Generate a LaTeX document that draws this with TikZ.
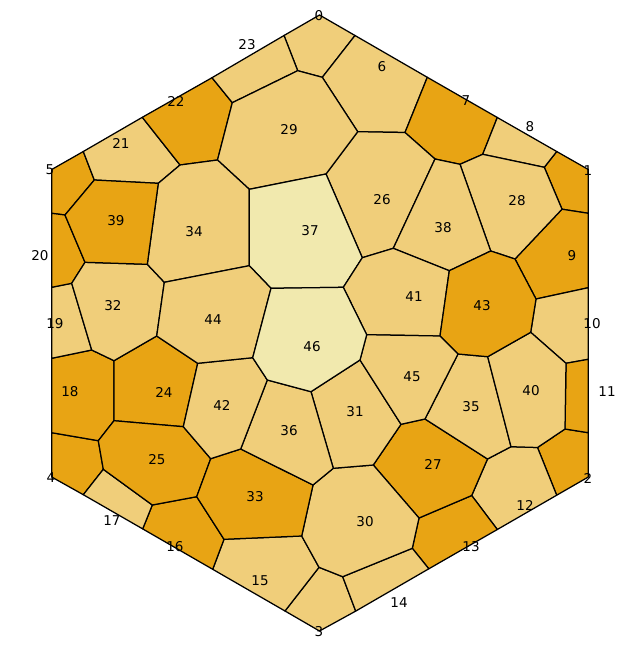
\documentclass[tikz,border=0pt]{standalone}
\usepackage{fontspec}
\setmainfont{DejaVu Sans}
\definecolor{dk}{RGB}{232,164,20}
\definecolor{lt}{RGB}{240,206,122}
\definecolor{pl}{RGB}{241,233,174}
\begin{document}
\begin{tikzpicture}[x=1pt,y=-1pt,line join=round,
  cell/.style={draw=black,line width=1.25pt},
  cdk/.style={cell,fill=dk},
  clt/.style={cell,fill=lt},
  cpl/.style={cell,fill=pl},
  lab/.style={font=\fontsize{13.5}{15}\selectfont,inner sep=0pt}]
\useasboundingbox (0,0) rectangle (640,650);
% hexagon vertices
\coordinate (V0) at (319.5,15);
\coordinate (V1) at (588.3,169.5);
\coordinate (V2) at (588.3,477);
\coordinate (V3) at (319.5,631);
\coordinate (V4) at (51.7,477);
\coordinate (V5) at (51.7,169.5);
% boundary points
\coordinate (b521) at (83.3,151.5);
\coordinate (b2122) at (142.3,117.3);
\coordinate (b2223) at (212,77.7);
\coordinate (b230) at (284,35.5);
\coordinate (b06) at (355,35.5);
\coordinate (b67) at (427.3,77.3);
\coordinate (b78) at (497.3,117.5);
\coordinate (b81) at (556.7,151.5);
\coordinate (b19) at (588.3,213.3);
\coordinate (b910) at (588.3,287.7);
\coordinate (b1011) at (588.3,359.3);
\coordinate (b112) at (588.3,432.7);
\coordinate (b212) at (556.7,495.2);
\coordinate (b1213) at (497.3,529.5);
\coordinate (b1314) at (428.8,568.8);
\coordinate (b143) at (355.7,611.1);
\coordinate (b315) at (285,611);
\coordinate (b1516) at (212.7,569.3);
\coordinate (b1617) at (142.7,528.9);
\coordinate (b174) at (83.3,494.7);
\coordinate (b418) at (51.7,432.7);
\coordinate (b1819) at (51.7,358.3);
\coordinate (b1920) at (51.7,287.3);
\coordinate (b205) at (51.7,213.3);
% interior vertices
\coordinate (A) at (94.3,180);
\coordinate (B) at (65,215);
\coordinate (C) at (158.3,183.3);
\coordinate (D) at (180,165);
\coordinate (E) at (217.5,160);
\coordinate (F) at (232.3,102.7);
\coordinate (G) at (297.7,70.7);
\coordinate (H) at (322.3,77.3);
\coordinate (I) at (357.7,131.7);
\coordinate (J) at (405,132.5);
\coordinate (K) at (435,159);
\coordinate (L) at (460,164.3);
\coordinate (M) at (482.7,154.3);
\coordinate (N) at (544.3,167.3);
\coordinate (O) at (562,209.2);
\coordinate (P) at (326,174);
\coordinate (Q) at (249.3,189.3);
\coordinate (R) at (147.3,264.3);
\coordinate (S) at (85,262.3);
\coordinate (T) at (71.7,283.3);
\coordinate (U) at (164.3,282.3);
\coordinate (VV) at (249.3,265.7);
\coordinate (W) at (271,288.3);
\coordinate (X) at (343.3,287.3);
\coordinate (Y) at (362.3,257.7);
\coordinate (Z) at (393.3,248.3);
\coordinate (AA) at (490.7,251);
\coordinate (AB) at (449.3,270.7);
\coordinate (AC) at (515,259);
\coordinate (AD) at (536,299);
\coordinate (AE) at (530.7,332.3);
\coordinate (AF) at (440,336);
\coordinate (AG) at (366.7,334.7);
\coordinate (AH) at (458,354);
\coordinate (AI) at (487.7,356.7);
\coordinate (AJ) at (566,363.3);
\coordinate (AK) at (565,429);
\coordinate (AL) at (537.5,447.5);
\coordinate (AM) at (511,446.7);
\coordinate (AN) at (487.5,459);
\coordinate (AO) at (425,419);
\coordinate (AP) at (401,424.3);
\coordinate (AQ) at (360,360);
\coordinate (AR) at (311,391.7);
\coordinate (AS) at (267.3,380);
\coordinate (AT) at (252.7,357.7);
\coordinate (AU) at (156.7,336);
\coordinate (AV) at (197.7,363.3);
\coordinate (AW) at (91.7,350);
\coordinate (AX) at (114,360.7);
\coordinate (AY) at (114,420.7);
\coordinate (AZ) at (183.3,426.7);
\coordinate (BA) at (98.3,440.7);
\coordinate (BB) at (103.3,469.3);
\coordinate (BC) at (210.7,458.7);
\coordinate (BD) at (240.7,449);
\coordinate (BE) at (313,485);
\coordinate (BF) at (333.3,468.3);
\coordinate (BG) at (373.3,465);
\coordinate (BH) at (419,518);
\coordinate (BI) at (471.7,495.5);
\coordinate (BJ) at (412.3,548.3);
\coordinate (BK) at (342.7,576.7);
\coordinate (BL) at (319,567.3);
\coordinate (BM) at (301.7,536);
\coordinate (BN) at (224,539.3);
\coordinate (BO) at (196.7,496.7);
\coordinate (BP) at (152.3,505);
% cells
\path[clt] (b230) -- (V0) -- (b06) -- (H) -- (G) -- cycle;
\path[cdk] (b81) -- (V1) -- (b19) -- (O) -- (N) -- cycle;
\path[cdk] (b112) -- (V2) -- (b212) -- (AL) -- (AK) -- cycle;
\path[clt] (b143) -- (V3) -- (b315) -- (BL) -- (BK) -- cycle;
\path[cdk] (b174) -- (V4) -- (b418) -- (BA) -- (BB) -- cycle;
\path[cdk] (b205) -- (V5) -- (b521) -- (A) -- (B) -- cycle;
\path[clt] (b06) -- (b67) -- (J) -- (I) -- (H) -- cycle;
\path[cdk] (b67) -- (b78) -- (M) -- (L) -- (K) -- (J) -- cycle;
\path[clt] (b78) -- (b81) -- (N) -- (M) -- cycle;
\path[cdk] (b19) -- (b910) -- (AD) -- (AC) -- (O) -- cycle;
\path[clt] (b910) -- (b1011) -- (AJ) -- (AE) -- (AD) -- cycle;
\path[cdk] (b1011) -- (b112) -- (AK) -- (AJ) -- cycle;
\path[clt] (b212) -- (b1213) -- (BI) -- (AN) -- (AM) -- (AL) -- cycle;
\path[cdk] (b1213) -- (b1314) -- (BJ) -- (BH) -- (BI) -- cycle;
\path[clt] (b1314) -- (b143) -- (BK) -- (BJ) -- cycle;
\path[clt] (b315) -- (b1516) -- (BN) -- (BM) -- (BL) -- cycle;
\path[cdk] (b1516) -- (b1617) -- (BP) -- (BO) -- (BN) -- cycle;
\path[clt] (b1617) -- (b174) -- (BB) -- (BP) -- cycle;
\path[cdk] (b418) -- (b1819) -- (AW) -- (AX) -- (AY) -- (BA) -- cycle;
\path[clt] (b1819) -- (b1920) -- (T) -- (AW) -- cycle;
\path[cdk] (b1920) -- (b205) -- (B) -- (S) -- (T) -- cycle;
\path[clt] (b521) -- (b2122) -- (D) -- (C) -- (A) -- cycle;
\path[cdk] (b2122) -- (b2223) -- (F) -- (E) -- (D) -- cycle;
\path[clt] (b2223) -- (b230) -- (G) -- (F) -- cycle;
\path[cdk] (AX) -- (AU) -- (AV) -- (AZ) -- (AY) -- cycle;
\path[cdk] (AY) -- (AZ) -- (BC) -- (BO) -- (BP) -- (BB) -- (BA) -- cycle;
\path[clt] (I) -- (J) -- (K) -- (Z) -- (Y) -- (P) -- cycle;
\path[cdk] (AP) -- (AO) -- (AN) -- (BI) -- (BH) -- (BG) -- cycle;
\path[clt] (M) -- (N) -- (O) -- (AC) -- (AA) -- (L) -- cycle;
\path[clt] (F) -- (G) -- (H) -- (I) -- (P) -- (Q) -- (E) -- cycle;
\path[clt] (BF) -- (BG) -- (BH) -- (BJ) -- (BK) -- (BL) -- (BM) -- (BE) -- cycle;
\path[clt] (AR) -- (AQ) -- (AP) -- (BG) -- (BF) -- cycle;
\path[clt] (S) -- (R) -- (U) -- (AU) -- (AX) -- (AW) -- (T) -- cycle;
\path[cdk] (BC) -- (BD) -- (BE) -- (BM) -- (BN) -- (BO) -- cycle;
\path[clt] (D) -- (E) -- (Q) -- (VV) -- (U) -- (R) -- (C) -- cycle;
\path[clt] (AH) -- (AI) -- (AM) -- (AN) -- (AO) -- cycle;
\path[clt] (AS) -- (AR) -- (BF) -- (BE) -- (BD) -- cycle;
\path[cpl] (Q) -- (P) -- (Y) -- (X) -- (W) -- (VV) -- cycle;
\path[clt] (K) -- (L) -- (AA) -- (AB) -- (Z) -- cycle;
\path[cdk] (A) -- (C) -- (R) -- (S) -- (B) -- cycle;
\path[clt] (AI) -- (AE) -- (AJ) -- (AK) -- (AL) -- (AM) -- cycle;
\path[clt] (Z) -- (AB) -- (AF) -- (AG) -- (X) -- (Y) -- cycle;
\path[clt] (AV) -- (AT) -- (AS) -- (BD) -- (BC) -- (AZ) -- cycle;
\path[cdk] (AA) -- (AC) -- (AD) -- (AE) -- (AI) -- (AH) -- (AF) -- (AB) -- cycle;
\path[clt] (U) -- (VV) -- (W) -- (AT) -- (AV) -- (AU) -- cycle;
\path[clt] (AG) -- (AF) -- (AH) -- (AO) -- (AP) -- (AQ) -- cycle;
\path[cpl] (W) -- (X) -- (AG) -- (AQ) -- (AR) -- (AS) -- (AT) -- cycle;
% labels
\node[lab] (l0) at (319,16) {0};
\node[lab] (l1) at (588,171) {1};
\node[lab] (l2) at (588,478) {2};
\node[lab] (l3) at (319,632) {3};
\node[lab] (l4) at (51,478) {4};
\node[lab] (l5) at (50,170) {5};
\node[lab] (l6) at (382,67) {6};
\node[lab] (l7) at (466,101) {7};
\node[lab] (l8) at (530,127) {8};
\node[lab] (l9) at (572,256) {9};
\node[lab] (l10) at (592,324) {10};
\node[lab] (l11) at (607,392) {11};
\node[lab] (l12) at (525,505) {12};
\node[lab] (l13) at (471,547) {13};
\node[lab] (l14) at (399,603) {14};
\node[lab] (l15) at (260,581) {15};
\node[lab] (l16) at (175,547) {16};
\node[lab] (l17) at (112,521) {17};
\node[lab] (l18) at (70,392) {18};
\node[lab] (l19) at (55,324) {19};
\node[lab] (l20) at (40,256) {20};
\node[lab] (l21) at (121,143) {21};
\node[lab] (l22) at (176,101) {22};
\node[lab] (l23) at (247,45) {23};
\node[lab] (l24) at (164,392) {24};
\node[lab] (l25) at (157,460) {25};
\node[lab] (l26) at (382,200) {26};
\node[lab] (l27) at (433,464) {27};
\node[lab] (l28) at (517,201) {28};
\node[lab] (l29) at (289,130) {29};
\node[lab] (l30) at (365,522) {30};
\node[lab] (l31) at (355,412) {31};
\node[lab] (l32) at (113,306) {32};
\node[lab] (l33) at (255,497) {33};
\node[lab] (l34) at (194,232) {34};
\node[lab] (l35) at (471,407) {35};
\node[lab] (l36) at (289,431) {36};
\node[lab] (l37) at (310,231) {37};
\node[lab] (l38) at (443,228) {38};
\node[lab] (l39) at (116,221) {39};
\node[lab] (l40) at (531,391) {40};
\node[lab] (l41) at (414,297) {41};
\node[lab] (l42) at (222,405) {42};
\node[lab] (l43) at (482,306) {43};
\node[lab] (l44) at (213,320) {44};
\node[lab] (l45) at (412,377) {45};
\node[lab] (l46) at (312,347) {46};
\end{tikzpicture}
\end{document}
